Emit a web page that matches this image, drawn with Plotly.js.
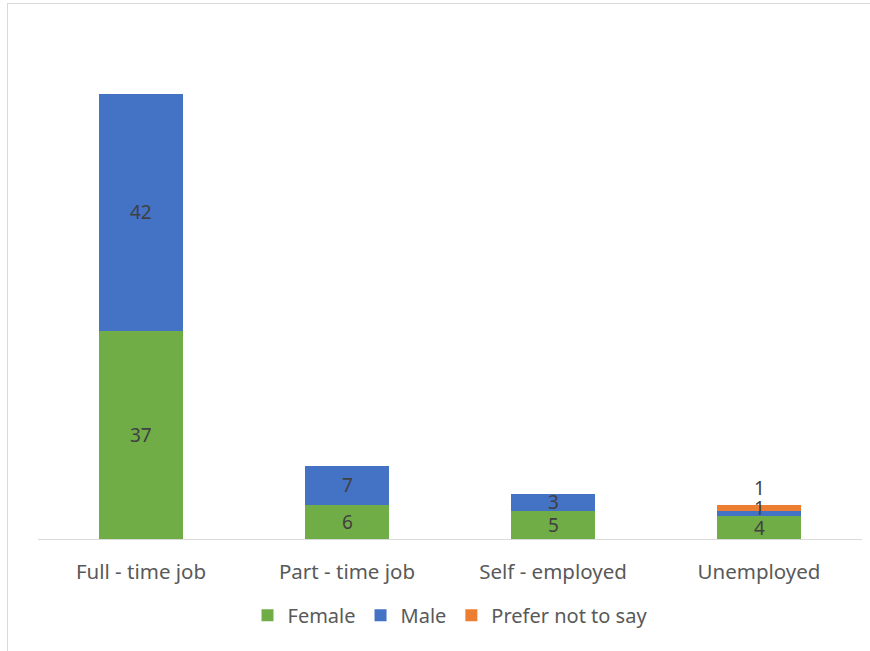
<!DOCTYPE html>
<html>
<head>
<meta charset="utf-8">
<script src="https://cdn.plot.ly/plotly-3.0.1.min.js"></script>
<style>
  html, body { margin: 0; padding: 0; background: #fff; overflow: hidden; }
  #frame { position: absolute; left: 7px; top: 3px; width: 900px; height: 700px; border: 1px solid #d9d9d9; box-sizing: border-box; }
  #chart { position: absolute; left: 0; top: 0; width: 870px; height: 651px; }
</style>
</head>
<body>
<div id="frame"></div>
<div id="chart"></div>
<script>
const categories = ["Full - time job", "Part - time job", "Self - employed", "Unemployed"];
const female = [37, 6, 5, 4];
const male = [42, 7, 3, 1];
const preferNot = [0, 0, 0, 1];

const colors = { female: "#70AD47", male: "#4472C4", prefer: "#ED7D31" };

function bar(name, vals, color) {
  return {
    type: "bar", name: name, x: categories, y: vals,
    marker: { color: color }, textposition: "none", hoverinfo: "x+y+name"
  };
}

const traces = [
  bar("Female", female, colors.female),
  bar("Male", male, colors.male),
  bar("Prefer not to say", preferNot, colors.prefer)
];

const labelFont = { family: "Noto Sans, Open Sans, sans-serif", size: 19, color: "#404040" };
const annotations = [];
categories.forEach((c, i) => {
  const f = female[i], m = male[i], p = preferNot[i];
  if (f > 0) annotations.push({ x: c, y: f / 2, text: String(f), showarrow: false, font: labelFont });
  const small = p > 0;
  if (m > 0) annotations.push({ x: c, y: f + m / 2, text: String(m), showarrow: false, font: labelFont, yshift: small ? 6 : 0 });
  if (p > 0) annotations.push({ x: c, y: f + m + p / 2, text: String(p), showarrow: false, font: labelFont, yshift: 20 });
});

const layout = {
  width: 870, height: 651,
  margin: { l: 38, r: 8, t: 32, b: 112 },
  paper_bgcolor: "rgba(0,0,0,0)",
  plot_bgcolor: "rgba(0,0,0,0)",
  barmode: "stack",
  bargap: 0.59,
  showlegend: true,
  legend: {
    orientation: "h", x: 0.5, xanchor: "center", y: -0.112, yanchor: "top",
    font: { family: "Noto Sans, Open Sans, sans-serif", size: 20, color: "#595959" },
    traceorder: "normal", itemwidth: 30
  },
  xaxis: {
    showline: true, linecolor: "#d9d9d9", linewidth: 1,
    ticks: "", showgrid: false, zeroline: false,
    ticklabelstandoff: 14,
    tickfont: { family: "Noto Sans, Open Sans, sans-serif", size: 20.5, color: "#595959" },
    fixedrange: true
  },
  yaxis: {
    range: [0, 90], visible: false, showgrid: false, zeroline: false, fixedrange: true
  },
  annotations: annotations
};

Plotly.newPlot("chart", traces, layout, { displayModeBar: false, staticPlot: true });
</script>
</body>
</html>
